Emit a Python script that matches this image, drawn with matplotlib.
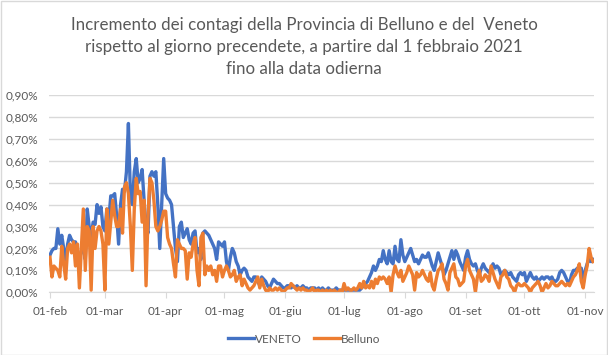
import matplotlib
matplotlib.use("Agg")
import pandas as pd
import matplotlib.pyplot as plt
from matplotlib.ticker import FuncFormatter
from matplotlib.patches import Rectangle

# incremento giornaliero dei contagi in %, dal 1 febbraio 2021
veneto_feb = [0.17, 0.19, 0.20, 0.20, 0.29, 0.22, 0.26, 0.20, 0.14, 0.22,
              0.26, 0.24, 0.23, 0.23, 0.18, 0.15, 0.19, 0.20, 0.15, 0.38,
              0.30, 0.25, 0.32, 0.31, 0.40, 0.36, 0.39, 0.30]
veneto_mar = [0.28, 0.38, 0.33, 0.44, 0.44, 0.45, 0.35, 0.22, 0.40, 0.47,
              0.46, 0.55, 0.77, 0.45, 0.40, 0.55, 0.61, 0.50, 0.52, 0.56,
              0.42, 0.30, 0.27, 0.53, 0.55, 0.53, 0.55, 0.40, 0.20, 0.40,
              0.61]
veneto_apr = [0.45, 0.43, 0.42, 0.40, 0.30, 0.20, 0.14, 0.30, 0.32, 0.25,
              0.27, 0.29, 0.24, 0.22, 0.27, 0.28, 0.18, 0.20, 0.15, 0.27,
              0.28, 0.27, 0.26, 0.24, 0.22, 0.20, 0.15, 0.23, 0.22, 0.21]
veneto_mag = [0.23, 0.14, 0.10, 0.16, 0.20, 0.18, 0.14, 0.12, 0.08, 0.10,
              0.11, 0.10, 0.07, 0.06, 0.05, 0.07, 0.07, 0.05, 0.03, 0.07,
              0.06, 0.05, 0.03, 0.02, 0.04, 0.06, 0.05, 0.04, 0.04, 0.03,
              0.02]
veneto_giu = [0.02, 0.03, 0.03, 0.02, 0.03, 0.02, 0.03, 0.02, 0.02, 0.03,
              0.02, 0.02, 0.01, 0.02, 0.02, 0.02, 0.01, 0.02, 0.01, 0.02,
              0.01, 0.01, 0.02, 0.01, 0.01, 0.01, 0.02, 0.01, 0.01, 0.01]
veneto_lug = [0.01, 0.01, 0.01, 0.01, 0.01, 0.01, 0.01, 0.01, 0.01, 0.02,
              0.03, 0.04, 0.05, 0.07, 0.09, 0.12, 0.10, 0.12, 0.15, 0.14,
              0.19, 0.15, 0.13, 0.19, 0.14, 0.13, 0.21, 0.15, 0.14, 0.24,
              0.17]
veneto_ago = [0.14, 0.16, 0.18, 0.20, 0.17, 0.14, 0.15, 0.13, 0.15, 0.17,
              0.16, 0.16, 0.18, 0.15, 0.12, 0.10, 0.14, 0.18, 0.15, 0.12,
              0.08, 0.10, 0.13, 0.16, 0.19, 0.15, 0.19, 0.17, 0.14, 0.12,
              0.10]
veneto_set = [0.16, 0.19, 0.15, 0.13, 0.12, 0.13, 0.10, 0.08, 0.11, 0.13,
              0.11, 0.10, 0.09, 0.11, 0.13, 0.11, 0.12, 0.11, 0.08, 0.09,
              0.10, 0.09, 0.08, 0.09, 0.07, 0.06, 0.05, 0.08, 0.09, 0.08]
veneto_ott = [0.09, 0.05, 0.07, 0.09, 0.07, 0.06, 0.07, 0.05, 0.06, 0.07,
              0.06, 0.07, 0.07, 0.06, 0.07, 0.05, 0.05, 0.06, 0.09, 0.10,
              0.09, 0.07, 0.05, 0.04, 0.08, 0.10, 0.10, 0.11, 0.10, 0.11,
              0.04]
veneto_nov = [0.10, 0.13, 0.15, 0.14, 0.15]

belluno_feb = [0.16, 0.07, 0.12, 0.11, 0.10, 0.07, 0.21, 0.13, 0.06, 0.20,
               0.22, 0.18, 0.23, 0.12, 0.22, 0.02, 0.20, 0.38, 0.10, 0.30,
               0.28, 0.01, 0.30, 0.20, 0.28, 0.30, 0.28, 0.22]
belluno_mar = [0.01, 0.38, 0.22, 0.32, 0.42, 0.35, 0.30, 0.30, 0.38, 0.27,
               0.48, 0.50, 0.45, 0.30, 0.10, 0.38, 0.52, 0.45, 0.46, 0.32,
               0.42, 0.03, 0.35, 0.52, 0.50, 0.42, 0.30, 0.28, 0.30, 0.33,
               0.37]
belluno_apr = [0.37, 0.25, 0.22, 0.20, 0.13, 0.07, 0.24, 0.22, 0.20, 0.20,
               0.19, 0.06, 0.18, 0.16, 0.22, 0.25, 0.10, 0.03, 0.25, 0.27,
               0.08, 0.12, 0.10, 0.12, 0.08, 0.10, 0.05, 0.12, 0.12, 0.07]
belluno_mag = [0.10, 0.12, 0.10, 0.07, 0.08, 0.10, 0.05, 0.07, 0.08, 0.03,
               0.06, 0.04, 0.02, 0.01, 0.02, 0.03, 0.05, 0.07, 0.02, 0.06,
               0.03, 0.01, 0.00, 0.02, 0.01, 0.01, 0.02, 0.01, 0.02, 0.01,
               0.00]
belluno_giu = [0.01, 0.02, 0.02, 0.04, 0.03, 0.02, 0.01, 0.02, 0.01, 0.02,
               0.01, 0.01, 0.00, 0.01, 0.02, 0.00, 0.01, 0.01, 0.00, 0.01,
               0.00, 0.01, 0.00, 0.01, 0.00, 0.01, 0.00, 0.00, 0.01, 0.00]
belluno_lug = [0.04, 0.01, 0.02, 0.01, 0.01, 0.02, 0.01, 0.02, 0.04, 0.02,
               0.05, 0.02, 0.03, 0.02, 0.05, 0.02, 0.06, 0.04, 0.07, 0.06,
               0.07, 0.06, 0.04, 0.07, 0.00, 0.08, 0.12, 0.09, 0.07, 0.10,
               0.05]
belluno_ago = [0.07, 0.09, 0.12, 0.10, 0.08, 0.01, 0.09, 0.07, 0.08, 0.10,
               0.08, 0.06, 0.05, 0.09, 0.03, 0.01, 0.06, 0.10, 0.11, 0.13,
               0.06, 0.04, 0.01, 0.09, 0.11, 0.13, 0.07, 0.06, 0.03, 0.04,
               0.05]
belluno_set = [0.12, 0.15, 0.10, 0.08, 0.06, 0.00, 0.07, 0.10, 0.05, 0.06,
               0.08, 0.07, 0.05, 0.12, 0.09, 0.06, 0.04, 0.02, 0.07, 0.08,
               0.10, 0.07, 0.06, 0.03, 0.02, 0.00, 0.03, 0.04, 0.03, 0.03]
belluno_ott = [0.04, 0.03, 0.02, 0.00, 0.02, 0.03, 0.04, 0.05, 0.03, 0.00,
               0.02, 0.04, 0.02, 0.03, 0.05, 0.04, 0.03, 0.03, 0.04, 0.05,
               0.04, 0.03, 0.04, 0.03, 0.05, 0.07, 0.08, 0.10, 0.13, 0.05,
               0.02]
belluno_nov = [0.08, 0.12, 0.20, 0.16, 0.14]

tick_date = ["2021-02-01", "2021-03-01", "2021-04-01", "2021-05-01", "2021-06-01",
             "2021-07-01", "2021-08-01", "2021-09-01", "2021-10-01", "2021-11-01"]
tick_lbl = ["01-feb", "01-mar", "01-apr", "01-mag", "01-giu",
            "01-lug", "01-ago", "01-set", "01-ott", "01-nov"]
y_ticks = [0.0, 0.1, 0.2, 0.3, 0.4, 0.5, 0.6, 0.7, 0.8, 0.9]

veneto = (veneto_feb + veneto_mar + veneto_apr + veneto_mag + veneto_giu +
          veneto_lug + veneto_ago + veneto_set + veneto_ott + veneto_nov)
belluno = (belluno_feb + belluno_mar + belluno_apr + belluno_mag + belluno_giu +
           belluno_lug + belluno_ago + belluno_set + belluno_ott + belluno_nov)
giorni = pd.date_range("2021-02-01", periods=len(veneto), freq="D")

plt.rcParams['font.family'] = ['Lato', 'DejaVu Sans']
grigio = "#595959"

fig = plt.figure(figsize=(6.08, 3.55), dpi=100)
ax = fig.add_axes([0.0806, 0.1766, 0.8964, 0.5558])

ax.plot(giorni, veneto, color="#4472C4", lw=2.4, label="VENETO", solid_joinstyle="round")
ax.plot(giorni, belluno, color="#ED7D31", lw=2.4, label="Belluno", solid_joinstyle="round")

ax.set_xlim(giorni[0] - pd.Timedelta(hours=12), giorni[-1] + pd.Timedelta(hours=12))
ax.set_ylim(0, 0.9)
ax.set_yticks(y_ticks)
ax.yaxis.set_major_formatter(FuncFormatter(lambda v, p: f"{v:.2f}%".replace(".", ",")))
ax.set_xticks(pd.to_datetime(tick_date))
ax.set_xticklabels(tick_lbl)

ax.grid(axis="y", color="#D9D9D9", lw=1)
ax.set_axisbelow(True)
for s in ["top", "right", "left"]:
    ax.spines[s].set_visible(False)
ax.spines["bottom"].set_color("#D9D9D9")
ax.tick_params(axis="y", length=0, pad=8, labelsize=8.5, labelcolor=grigio)
ax.tick_params(axis="x", length=4, color="#D9D9D9", pad=6, labelsize=8.5, labelcolor=grigio)

fig.text(0.5, 0.951, "Incremento dei contagi della Provincia di Belluno e del  Veneto\n"
         "rispetto al giorno precendete, a partire dal 1 febbraio 2021\n"
         "fino alla data odierna", ha="center", va="top", fontsize=12.2,
         color=grigio, linespacing=1.45)

fig.legend(loc="center", bbox_to_anchor=(0.5, 0.045), ncol=2, frameon=False,
           fontsize=8.5, labelcolor=grigio, handlelength=2.2, columnspacing=1.0,
           handletextpad=0.1)

fig.patches.append(Rectangle((0.001, 0.001), 0.997, 0.996, transform=fig.transFigure,
                             fill=False, edgecolor="#D9D9D9", lw=1))

fig.savefig("out.png", dpi=100)
